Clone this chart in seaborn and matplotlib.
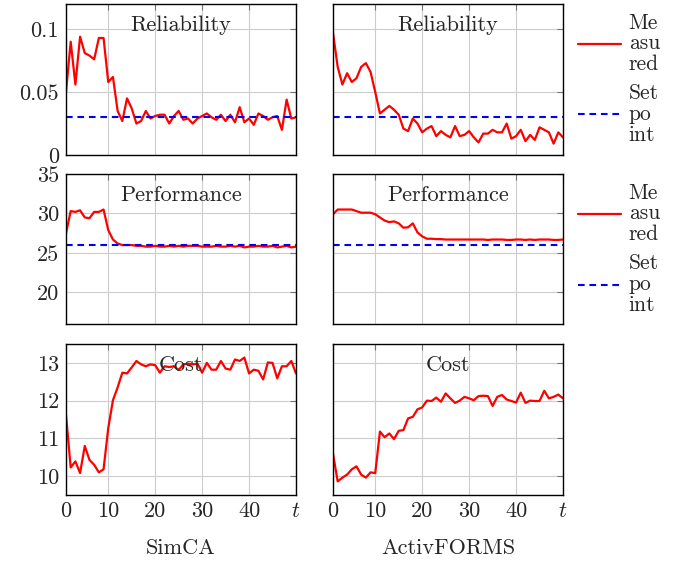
import numpy as np
import matplotlib
matplotlib.use("Agg")
import matplotlib.pyplot as plt
import seaborn as sns

# -------------------------------
# DATA
# -------------------------------
t = list(range(1, 51))

rel_simca = [0.050, 0.090, 0.056, 0.094, 0.081, 0.079, 0.076, 0.093, 0.093, 0.058,
             0.062, 0.035, 0.027, 0.045, 0.037, 0.025, 0.027, 0.035, 0.029, 0.031,
             0.032, 0.032, 0.025, 0.031, 0.035, 0.028, 0.029, 0.025, 0.029, 0.031,
             0.033, 0.030, 0.028, 0.032, 0.027, 0.032, 0.026, 0.038, 0.026, 0.029,
             0.024, 0.033, 0.031, 0.028, 0.030, 0.031, 0.020, 0.044, 0.029, 0.030]
rel_activ = [0.097, 0.070, 0.056, 0.065, 0.058, 0.061, 0.070, 0.073, 0.066, 0.050,
             0.033, 0.036, 0.039, 0.036, 0.032, 0.021, 0.019, 0.029, 0.025, 0.018,
             0.021, 0.023, 0.015, 0.019, 0.016, 0.014, 0.023, 0.015, 0.016, 0.019,
             0.014, 0.010, 0.017, 0.017, 0.020, 0.018, 0.018, 0.025, 0.013, 0.015,
             0.020, 0.011, 0.016, 0.012, 0.022, 0.020, 0.018, 0.009, 0.018, 0.014]

perf_simca = [27.5, 30.3, 30.2, 30.4, 29.5, 29.4, 30.2, 30.2, 30.5, 27.9,
              26.7, 26.2, 26.0, 26.0, 26.0, 25.9, 25.9, 25.8, 25.8, 25.9,
              25.8, 25.8, 25.9, 25.8, 25.9, 25.8, 25.9, 25.9, 25.9, 25.8,
              25.8, 25.8, 25.9, 25.8, 25.8, 25.9, 25.8, 25.9, 25.7, 25.8,
              25.8, 25.9, 25.8, 25.8, 25.9, 25.7, 25.8, 25.9, 25.7, 25.8]
perf_activ = [29.9, 30.5, 30.5, 30.5, 30.5, 30.3, 30.1, 30.1, 30.1, 29.9,
              29.5, 29.1, 28.9, 29.0, 28.75, 28.2, 28.25, 28.75, 27.6, 27.1,
              26.8, 26.8, 26.75, 26.75, 26.7, 26.7, 26.7, 26.7, 26.7, 26.7,
              26.7, 26.7, 26.7, 26.65, 26.7, 26.7, 26.7, 26.65, 26.65, 26.7,
              26.7, 26.65, 26.7, 26.65, 26.7, 26.7, 26.7, 26.65, 26.65, 26.7]

cost_simca = [11.62, 10.23, 10.39, 10.08, 10.80, 10.43, 10.30, 10.10, 10.18, 11.27,
              12.01, 12.35, 12.74, 12.72, 12.88, 13.05, 12.96, 12.91, 12.96, 12.94,
              12.74, 12.91, 12.89, 12.91, 12.81, 12.96, 12.98, 12.96, 12.98, 12.74,
              13.00, 12.82, 12.82, 13.05, 12.85, 12.82, 13.09, 13.05, 13.14, 12.72,
              12.82, 12.79, 12.56, 13.01, 13.00, 12.59, 12.91, 12.91, 13.05, 12.72]
cost_activ = [10.59, 9.86, 9.96, 10.04, 10.18, 10.26, 10.04, 9.96, 10.10, 10.08,
              11.18, 11.03, 11.13, 10.98, 11.20, 11.22, 11.53, 11.57, 11.77, 11.82,
              12.00, 11.99, 12.08, 11.97, 12.19, 12.06, 11.94, 12.00, 12.10, 12.06,
              12.01, 12.12, 12.13, 12.12, 11.86, 12.10, 12.15, 12.03, 11.99, 11.95,
              12.21, 11.94, 12.00, 11.99, 11.99, 12.26, 12.06, 12.10, 12.16, 12.06]

setpoint_rel = 0.03
setpoint_perf = 26

row_titles = ["Reliability", "Performance", "Cost"]
col_titles = ["SimCA", "ActivFORMS"]
x_ticks = [1, 10, 20, 30, 40, 50]
x_ticklabels = ["0", "10", "20", "30", "40", "$t$"]
y_ticks = [[0, 0.05, 0.1], [20, 25, 30, 35], [10, 11, 12, 13]]
y_ticklabels = [["0", "0.05", "0.1"], ["20", "25", "30", "35"], ["10", "11", "12", "13"]]
y_lims = [(0, 0.12), (16, 35), (9.5, 13.5)]

series = [[rel_simca, rel_activ], [perf_simca, perf_activ], [cost_simca, cost_activ]]
setpoints = [setpoint_rel, setpoint_perf, None]

# -------------------------------
# STYLE
# -------------------------------
sns.set_style("white")
plt.rcParams["font.family"] = ["cmr10", "DejaVu Serif"]
plt.rcParams["mathtext.fontset"] = "cm"
plt.rcParams["axes.formatter.use_mathtext"] = True
FS = 16

fig = plt.figure(figsize=(6.78, 5.68), dpi=100)

lefts = [66 / 678, 333 / 678]
width = 230 / 678
bottoms = [1 - 155 / 568, 1 - 324 / 568, 1 - 495 / 568]
heights = [151 / 568, 150 / 568, 151 / 568]

for r in range(3):
    for c in range(2):
        ax = fig.add_axes([lefts[c], bottoms[r], width, heights[r]])
        sns.lineplot(x=t, y=series[r][c], ax=ax, color="red", lw=1.6,
                     label="Me\nasu\nred", legend=False)
        if setpoints[r] is not None:
            ax.axhline(setpoints[r], color="blue", lw=1.5, ls=(0, (3.2, 2.3)),
                       label="Set\npo\nint")
        ax.set_xlim(1, 50)
        ax.set_ylim(*y_lims[r])
        ax.set_xticks(x_ticks)
        ax.set_yticks(y_ticks[r])
        if r == 2:
            ax.set_xticklabels(x_ticklabels, fontsize=FS)
        else:
            ax.set_xticklabels([])
        if c == 0:
            ax.set_yticklabels(y_ticklabels[r], fontsize=FS)
        else:
            ax.set_yticklabels([])
        ax.grid(True, color="#cccccc", lw=0.8)
        ax.tick_params(direction="in", length=4, color="0.45", top=True, right=True,
                       pad=5)
        for s in ax.spines.values():
            s.set_color("black")
            s.set_linewidth(1.0)
        ax.set_xlabel("")
        ax.set_ylabel("")
        ax.text(0.5, 0.86, row_titles[r], transform=ax.transAxes,
                ha="center", va="center", fontsize=FS)
        if c == 1 and setpoints[r] is not None:
            leg = ax.legend(loc="upper left", bbox_to_anchor=(1.0, 1.04), frameon=False,
                            fontsize=FS - 0.5, handlelength=2.0, handletextpad=0.35,
                            labelspacing=0.45, borderaxespad=0.3)
            for txt in leg.get_texts():
                txt.set_linespacing(1.08)

for c in range(2):
    fig.text(lefts[c] + width / 2, 1 - 548 / 568, col_titles[c],
             ha="center", va="center", fontsize=FS)

fig.savefig("out.png", dpi=100)
